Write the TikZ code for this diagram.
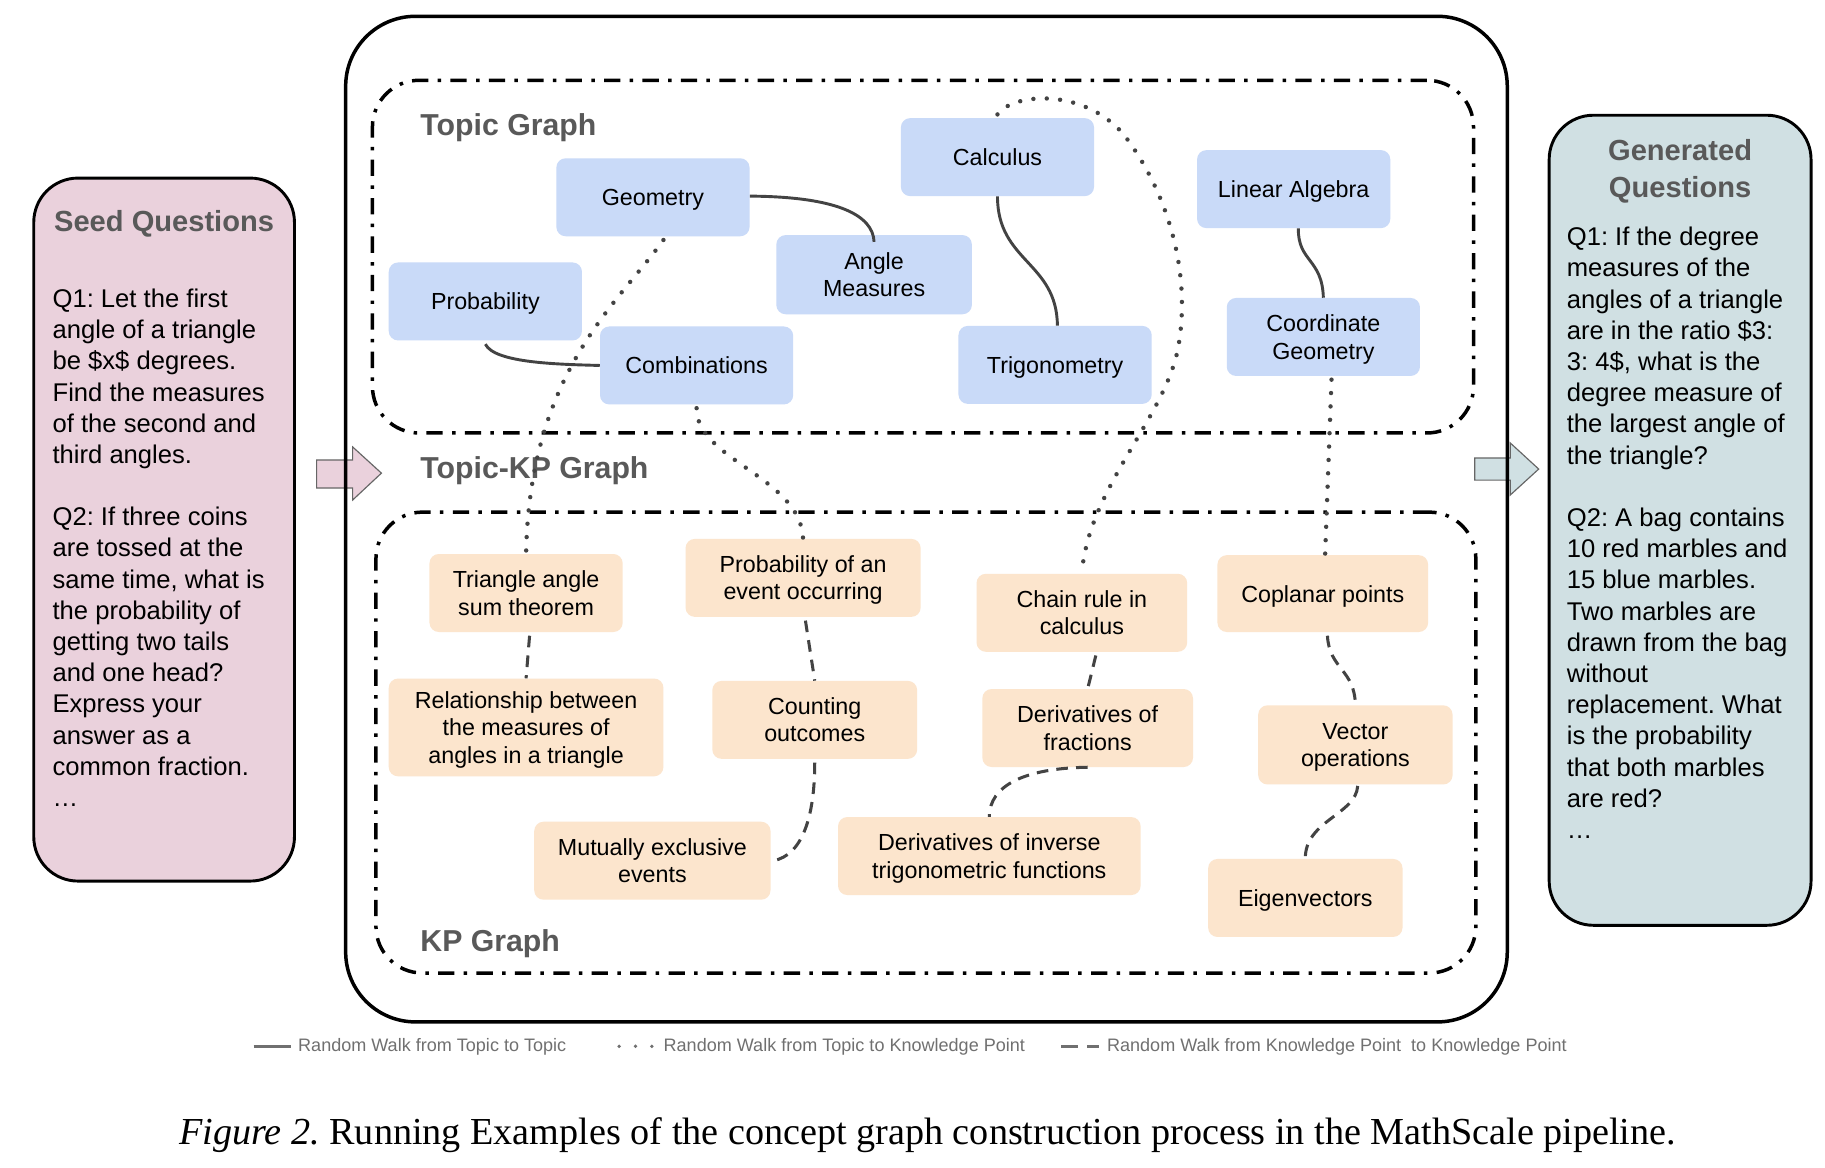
\documentclass[tikz,border=0pt]{standalone}
\usepackage{fontspec}
\setmainfont{Liberation Sans}
\newfontfamily\capfont{Liberation Serif}
\usetikzlibrary{calc}
\definecolor{topicblue}{HTML}{C9DAF8}
\definecolor{kporange}{HTML}{FCE5CD}
\definecolor{seedpink}{HTML}{EAD1DC}
\definecolor{gencyan}{HTML}{D0E0E3}
\definecolor{titlegray}{HTML}{595959}
\definecolor{linkgray}{HTML}{434343}
\definecolor{legendgray}{HTML}{707070}
\definecolor{arrowgray}{HTML}{666666}
\newcommand\nodesc[1]{\raisebox{0pt}[\height][0pt]{#1}}
\frenchspacing
\begin{document}
\frenchspacing
\begin{tikzpicture}[x=1pt,y=-1pt,
  topic/.style={rectangle, rounded corners=8pt, fill=topicblue, align=center, inner sep=0pt,
    font=\fontsize{20}{23.5}\selectfont, minimum width=166pt, minimum height=67pt},
  kp/.style={rectangle, rounded corners=8pt, fill=kporange, align=center, inner sep=0pt,
    font=\fontsize{20}{23.5}\selectfont, minimum height=67pt},
  container/.style={draw=black, line width=3pt, dash pattern=on 14pt off 8pt on 3pt off 8pt,
    rounded corners=40pt, inner sep=0pt},
  qbox/.style={draw=black, line width=2.5pt, rounded corners=38pt, inner sep=0pt},
  qtext/.style={anchor=north west, align=left, inner sep=0pt, font=\fontsize{22}{26.8}\selectfont},
  qtitle/.style={align=center, inner sep=0pt, text=titlegray, font=\bfseries\fontsize{25}{31}\selectfont},
  glabel/.style={anchor=base west, inner sep=0pt, text=titlegray, font=\bfseries\fontsize{26}{30}\selectfont},
  walktt/.style={draw=linkgray, line width=2.5pt},
  walktk/.style={draw=linkgray, line width=3.8pt, line cap=round, dash pattern=on 0pt off 11.5pt},
  walkkk/.style={draw=linkgray, line width=2.6pt, dash pattern=on 10pt off 7pt},
  legtext/.style={anchor=west, inner sep=0pt, text=legendgray, font=\fontsize{15.5}{18}\selectfont},
  blockarrow/.style={draw=arrowgray, line width=1pt}
]
\fill[white] (0,0) rectangle (1568,1003);
\useasboundingbox (0,0) rectangle (1568,1003);

% side boxes
\node[qbox, fill=seedpink, minimum width=224pt, minimum height=604pt] (seed) at (141,455) {};
\node[qtitle, anchor=base] (seedtitle) at (141,199) {Seed Questions};
\node[qtext] (seedtext) at (45,248) {Q1: Let the first\\angle of a triangle\\be \$x\$ degrees.\\Find the measures\\of the second and\\third angles.\\[26.8pt]Q2: If three coins\\are tossed at the\\same time, what is\\the probability of\\getting two tails\\and one head?\\Express your\\answer as a\\common fraction.\\…};

\node[qbox, fill=gencyan, minimum width=225pt, minimum height=696pt] (gen) at (1443.5,447) {};
\node[qtitle, anchor=north] (gentitle) at (1443.5,120) {Generated\\Questions};
\node[qtext] (gentext) at (1346,195) {Q1: If the degree\\measures of the\\angles of a triangle\\are in the ratio \$3:\\3: 4\$, what is the\\degree measure of\\the largest angle of\\the triangle?\\[26.8pt]Q2: A bag contains\\10 red marbles and\\15 blue marbles.\\Two marbles are\\drawn from the bag\\without\\replacement. What\\is the probability\\that both marbles\\are red?\\…};

% block arrows
\draw[blockarrow, fill=seedpink] (272,395.2) -- (303,395.2) -- (303,384) -- (327.7,406.5) -- (303,429.6) -- (303,419.3) -- (272,419.3) -- cycle;
\draw[blockarrow, fill=gencyan] (1267,393.5) -- (1297.6,393.5) -- (1297.6,380.6) -- (1322,403) -- (1297.6,425.3) -- (1297.6,412.5) -- (1267,412.5) -- cycle;

% containers
\node[draw=black, line width=3pt, rounded corners=60pt, inner sep=0pt, minimum width=998pt, minimum height=864pt] (outer) at (796,446) {};
\node[container, minimum width=946pt, minimum height=303pt] (topicbox) at (793,220.5) {};
\node[container, minimum width=945pt, minimum height=396pt] (kpbox) at (795.5,638) {};

\node[glabel] (lt) at (361,116.5) {Topic Graph};
\node[glabel] (ltk) at (361,411.5) {Topic-KP Graph};
\node[glabel] (lk) at (361,817.5) {KP Graph};

% topic nodes
\node[topic] (geo) at (561,169.5) {\nodesc{Geometry}};
\node[topic] (calc) at (857,135) {Calculus};
\node[topic] (la) at (1111.5,162.5) {\nodesc{Linear Algebra}};
\node[topic, minimum width=168pt, minimum height=68pt] (ang) at (751,236) {Angle\\Measures};
\node[topic] (prob) at (417,259) {\nodesc{Probability}};
\node[topic] (comb) at (598.5,314) {Combinations};
\node[topic] (trig) at (906.5,313.5) {\nodesc{Trigonometry}};
\node[topic] (cg) at (1137,289.5) {Coordinate\\\nodesc{Geometry}};

% KP nodes
\node[kp, minimum width=166pt] (tri) at (452,509.5) {Triangle angle\\sum theorem};
\node[kp, minimum width=202pt] (pev) at (690,496.5) {Probability of an\\\nodesc{event occurring}};
\node[kp, minimum width=181pt] (chain) at (929.5,526.5) {Chain rule in\\calculus};
\node[kp, minimum width=181pt, minimum height=66pt] (cop) at (1136.5,510) {\nodesc{Coplanar points}};
\node[kp, minimum width=236pt, minimum height=84pt] (rel) at (452,625) {Relationship between\\the measures of\\\nodesc{angles in a triangle}};
\node[kp, minimum width=176pt] (cnt) at (700,618.5) {Counting\\outcomes};
\node[kp, minimum width=181pt] (fr) at (934.5,625.5) {Derivatives of\\fractions};
\node[kp, minimum width=167pt, minimum height=68pt] (vec) at (1164.5,640) {Vector\\\nodesc{operations}};
\node[kp, minimum width=203pt] (mut) at (560.5,739.5) {Mutually exclusive\\events};
\node[kp, minimum width=260pt] (inv) at (850,735.5) {Derivatives of inverse\\\nodesc{trigonometric functions}};
\node[kp, minimum width=167pt] (eig) at (1121.5,771.5) {\nodesc{Eigenvectors}};

% topic -> topic
\draw[walktt] ([yshift=1pt]geo.east) .. controls (720,169) and (750,185) .. ([yshift=-6pt]ang.north);
\draw[walktt] ([yshift=-3pt]prob.south) .. controls (425,312) and (480,313) .. (comb.west);
\draw[walktt] (calc.south) .. controls (857,225) and (908,225) .. ([xshift=2pt]trig.north);
\draw[walktt] ([xshift=4pt]la.south) .. controls (1115,225) and (1136,222) .. (cg.north);

% topic -> KP
\draw[walktk] ([xshift=9pt,yshift=-3pt]geo.south) .. controls (530,262) and (455,320) .. (tri.north);
\draw[walktk] ([yshift=-3pt]comb.south) .. controls (598,395) and (688,410) .. (pev.north);
\draw[walktk] ([yshift=3pt]calc.north) .. controls (870,80) and (930,75) .. (965,115)
   .. controls (1000,160) and (1025,230) .. (1012,300)
   .. controls (1000,360) and (935,420) .. (chain.north);
\draw[walktk] ([xshift=7pt,yshift=-3pt]cg.south) -- ([xshift=2pt]cop.north);

% KP -> KP
\draw[walkkk] ([xshift=3pt,yshift=-3pt]tri.south) -- (rel.north);
\draw[walkkk] ([xshift=2pt,yshift=-3pt]pev.south) -- (cnt.north);
\draw[walkkk] ([yshift=-3pt]cnt.south) .. controls (700,700) and (690,735) .. ([xshift=2pt]mut.east);
\draw[walkkk] ([xshift=12pt,yshift=-3pt]chain.south) -- (fr.north);
\draw[walkkk] (fr.south) .. controls (880,660) and (850,675) .. (inv.north);
\draw[walkkk] ([xshift=4pt,yshift=-3pt]cop.south) .. controls (1142,575) and (1164,575) .. (vec.north);
\draw[walkkk] ([xshift=2pt,yshift=-1pt]vec.south) .. controls (1165,700) and (1121,705) .. (eig.north);

% legend
\coordinate (l1a) at (218,899); \coordinate (l1b) at (250,899);
\coordinate (l2a) at (532,899); \coordinate (l2b) at (562,899);
\coordinate (l3a) at (912,899); \coordinate (l3b) at (944,899);
\draw[draw=legendgray, line width=3pt] (l1a) -- (l1b);
\draw[draw=legendgray, line width=3.2pt, line cap=round, dash pattern=on 0pt off 14pt] (l2a) -- (l2b);
\draw[draw=legendgray, line width=3pt, dash pattern=on 14pt off 8pt] (l3a) -- (l3b);
\node[legtext] (t1) at (256,899) {Random Walk from Topic to Topic};
\node[legtext] (t2) at (570,899) {Random Walk from Topic to Knowledge Point};
\node[legtext] (t3) at (951,899) {Random Walk from Knowledge Point\ \ to Knowledge Point};

% caption
\node[inner sep=0pt, font=\capfont\fontsize{32.8}{38}\selectfont] (cap) at (797,975) {\textit{Figure 2.} Running Examples of the concept graph construction process in the MathScale pipeline.};
\end{tikzpicture}
\end{document}
